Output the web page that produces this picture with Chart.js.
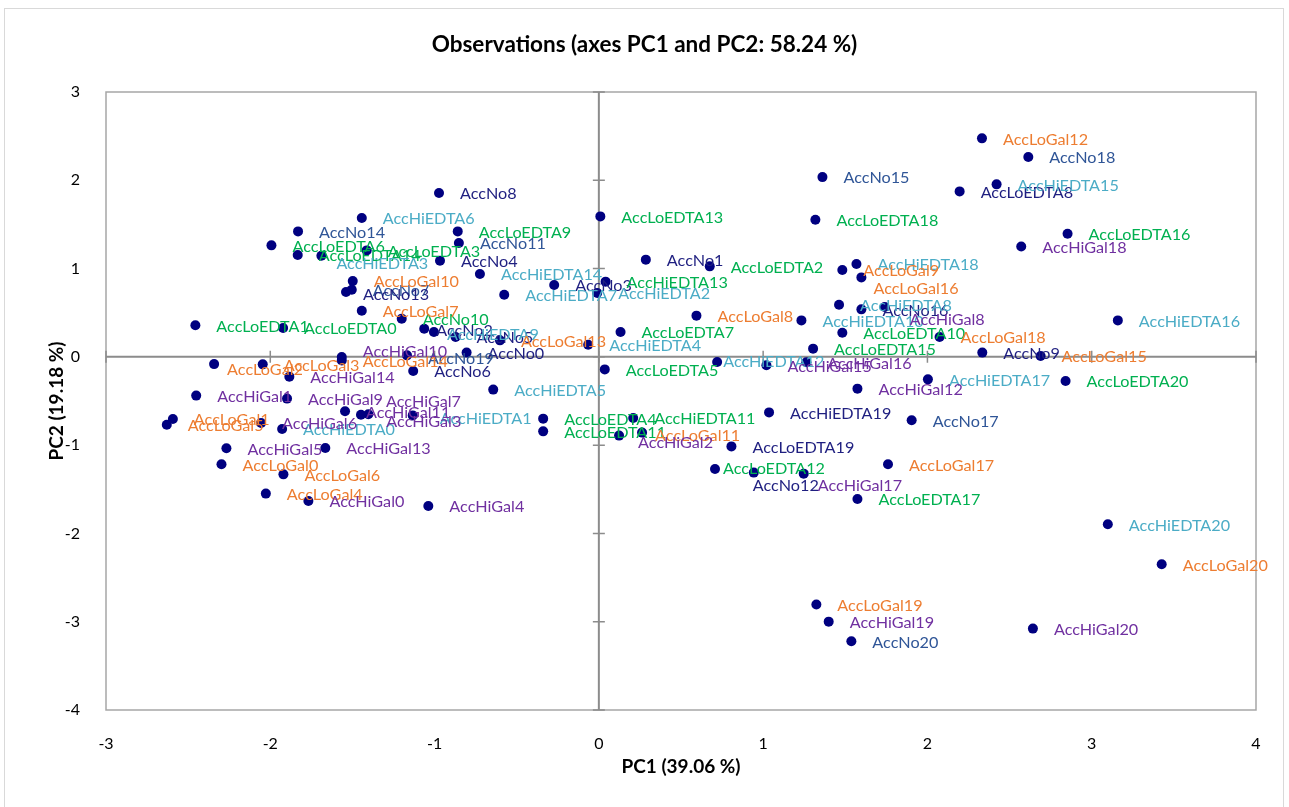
<!DOCTYPE html>
<html>
<head>
<meta charset="utf-8">
<title>Observations PC1/PC2</title>
<script src="https://cdn.jsdelivr.net/npm/chart.js@4.4.0/dist/chart.umd.min.js"></script>
<style>
  html, body { margin: 0; padding: 0; background: #fff; }
  #wrap { position: relative; width: 1289px; height: 807px; overflow: hidden; }
  #frame { position: absolute; left: 4px; top: 8px; width: 1280px; height: 810px; border: 1px solid #d9d9d9; box-sizing: border-box; }
  #obsChart { position: absolute; left: 0; top: 0; }
</style>
</head>
<body>
<div id="wrap">
  <div id="frame"></div>
  <canvas id="obsChart" width="1289" height="807"></canvas>
</div>
<script>
// Observation scores on the first two principal components
const groups = ['AccNo', 'AccLoEDTA', 'AccHiEDTA', 'AccLoGal', 'AccHiGal'];

const noPC1 = [-0.805, 0.286, -1.063, -0.272, -0.967, -0.872, -1.130, -1.504, -0.973, 2.334, -1.200, -0.852, 0.943, -1.539, -1.831, 1.361, 1.598, 1.904, 2.614, -1.168, 1.537];
const noPC2 = [0.048, 1.101, 0.319, 0.813, 1.089, 0.224, -0.161, 0.761, 1.855, 0.048, 0.433, 1.289, -1.311, 0.734, 1.421, 2.036, 0.538, -0.719, 2.263, 0.017, -3.222];

const loEdtaPC1 = [-1.922, -2.456, 0.675, -1.413, -0.339, 0.036, -1.993, 0.132, 2.196, -0.859, 1.482, -0.339, 0.707, 0.009, -1.833, 1.304, 2.853, 1.574, 1.318, 0.807, 2.841];
const loEdtaPC2 = [0.326, 0.357, 1.025, 1.206, -0.700, -0.142, 1.263, 0.281, 1.874, 1.421, 0.274, -0.844, -1.271, 1.591, 1.153, 0.093, 1.395, -1.610, 1.554, -1.014, -0.274];

const hiEdtaPC1 = [-1.928, -1.133, -0.010, -1.689, -0.065, -0.643, -1.443, -0.576, 1.462, -1.004, 1.233, 0.209, 0.720, 0.041, -0.724, 2.421, 3.159, 2.003, 1.568, 1.036, 3.098];
const hiEdtaPC2 = [-0.818, -0.663, 0.723, 1.146, 0.138, -0.371, 1.572, 0.704, 0.591, 0.281, 0.413, -0.693, -0.059, 0.852, 0.938, 1.954, 0.413, -0.255, 1.051, -0.629, -1.897];

const loGalPC1 = [-2.297, -2.593, -2.342, -2.046, -2.027, -2.630, -1.920, -1.443, 0.594, 1.482, -1.498, 0.263, 2.332, -0.602, -1.565, 2.689, 1.598, 1.760, 2.074, 1.324, 3.426];
const loGalPC2 = [-1.217, -0.704, -0.082, -0.085, -1.549, -0.768, -1.331, 0.523, 0.467, 0.983, 0.858, -0.858, 2.475, 0.187, -0.040, 0.009, 0.900, -1.217, 0.224, -2.806, -2.350];

const hiGalPC1 = [-1.768, -2.451, 0.123, -1.403, -1.038, -2.267, -2.056, -1.448, 1.740, -1.898, -1.565, -1.545, 1.574, -1.665, -1.884, 1.020, 1.263, 1.247, 2.571, 1.399, 2.642];
const hiGalPC2 = [-1.633, -0.439, -0.892, -0.651, -1.690, -1.036, -0.750, -0.655, 0.564, -0.473, -0.003, -0.617, -0.360, -1.033, -0.224, -0.096, -0.062, -1.323, 1.251, -2.999, -3.078];

const xTicks = [-3, -2, -1, 0, 1, 2, 3, 4];
const yTicks = [-4, -3, -2, -1, 0, 1, 2, 3];

const seriesPC1 = [noPC1, loEdtaPC1, hiEdtaPC1, loGalPC1, hiGalPC1];
const seriesPC2 = [noPC2, loEdtaPC2, hiEdtaPC2, loGalPC2, hiGalPC2];

// label colours
const groupColors = ['#2f5597', '#00b050', '#4bacc6', '#ed7d31', '#7030a0'];
const NAVY = '#1f1f80';
const colorOverride = {
    AccNo0: NAVY, AccNo1: NAVY, AccNo2: NAVY, AccNo3: NAVY, AccNo4: NAVY, AccNo5: NAVY,
    AccNo6: NAVY, AccNo8: NAVY, AccNo9: NAVY, AccNo12: NAVY, AccNo13: NAVY, AccNo16: NAVY,
    AccNo10: '#00b050',
    AccLoEDTA8: NAVY, AccLoEDTA19: NAVY, AccHiEDTA19: NAVY,
    AccHiEDTA11: '#00b050', AccHiEDTA13: '#00b050'
};

// label placement: default is to the right of the point, some are shifted to avoid overlap
const LABEL_DX = 21, LABEL_DY = 1;
const labelShift = {
    AccNo2: [12, 2], AccNo12: [-1, 13], AccNo13: [17, 3], AccNo19: [21, 3],
    AccLoEDTA12: [8, 0],
    AccHiEDTA1: [27, 3], AccHiEDTA3: [15, 8], AccHiEDTA9: [13, 3], AccHiEDTA12: [6, 0],
    AccLoGal2: [13, 6], AccLoGal11: [13, 3], AccLoGal16: [12, 11],
    AccHiGal2: [19, 7], AccHiGal3: [18, 7], AccHiGal7: [25, -13], AccHiGal8: [25, 13],
    AccHiGal10: [21, -5], AccHiGal17: [14, 12]
};

const FONT = 'Lato, "Liberation Sans", sans-serif';

const datasets = groups.map((g, gi) => ({
    label: g,
    data: seriesPC1[gi].map((v, i) => ({ x: v, y: seriesPC2[gi][i] })),
    pointRadius: 5,
    pointHoverRadius: 5,
    pointBackgroundColor: '#000080',
    pointBorderWidth: 0,
    showLine: false
}));

const axesPlugin = {
    id: 'pcaAxes',
    beforeDatasetsDraw(chart) {
        const { ctx, chartArea: a, scales: { x, y } } = chart;
        ctx.save();
        ctx.strokeStyle = '#a6a6a6';
        ctx.lineWidth = 1.5;
        ctx.strokeRect(a.left, a.top, a.right - a.left, a.bottom - a.top);

        const x0 = x.getPixelForValue(0);
        const y0 = y.getPixelForValue(0);
        ctx.strokeStyle = '#8c8c8c';
        ctx.lineWidth = 2;
        ctx.beginPath();
        ctx.moveTo(a.left, y0); ctx.lineTo(a.right, y0);
        ctx.moveTo(x0, a.top); ctx.lineTo(x0, a.bottom);
        ctx.stroke();

        // cross ticks on the zero axes
        ctx.lineWidth = 1.5;
        ctx.beginPath();
        xTicks.forEach(v => {
            const px = x.getPixelForValue(v);
            ctx.moveTo(px, y0 - 6); ctx.lineTo(px, y0 + 6);
        });
        yTicks.forEach(v => {
            const py = y.getPixelForValue(v);
            ctx.moveTo(x0 - 6, py); ctx.lineTo(x0 + 6, py);
        });
        ctx.stroke();
        ctx.restore();
    },
    afterDatasetsDraw(chart) {
        const { ctx } = chart;
        ctx.save();
        ctx.font = '16.2px ' + FONT;
        ctx.textAlign = 'left';
        ctx.textBaseline = 'middle';
        chart.data.datasets.forEach((ds, gi) => {
            const meta = chart.getDatasetMeta(gi);
            meta.data.forEach((pt, i) => {
                const name = groups[gi] + i;
                const [dx, dy] = labelShift[name] || [LABEL_DX, LABEL_DY];
                ctx.fillStyle = colorOverride[name] || groupColors[gi];
                ctx.fillText(name, pt.x + dx, pt.y + dy);
            });
        });
        ctx.restore();
    },
    afterDraw(chart) {
        const { ctx, chartArea: a } = chart;
        ctx.save();
        ctx.fillStyle = '#000';
        ctx.textAlign = 'center';
        ctx.textBaseline = 'middle';
        ctx.font = 'bold 22.5px ' + FONT;
        ctx.fillText('Observations (axes PC1 and PC2: 58.24 %)', chart.width / 2, 45);
        ctx.font = 'bold 19px ' + FONT;
        ctx.fillText('PC1 (39.06 %)', (a.left + a.right) / 2, 767);
        ctx.translate(57, (a.top + a.bottom) / 2);
        ctx.rotate(-Math.PI / 2);
        ctx.fillText('PC2 (19.18 %)', 0, 0);
        ctx.restore();
    }
};

const tickFont = { family: FONT, size: 16 };

new Chart(document.getElementById('obsChart').getContext('2d'), {
    type: 'scatter',
    data: { datasets },
    options: {
        responsive: false,
        animation: false,
        layout: { padding: { top: 92, right: 33, left: 0, bottom: 0 } },
        plugins: {
            legend: { display: false },
            tooltip: { enabled: false }
        },
        scales: {
            x: {
                type: 'linear',
                min: -3,
                max: 4,
                ticks: { stepSize: 1, padding: 16, color: '#000', font: tickFont, maxRotation: 0 },
                grid: { display: false },
                border: { display: false },
                afterFit(scale) { scale.height = 97; }
            },
            y: {
                type: 'linear',
                min: -4,
                max: 3,
                ticks: { stepSize: 1, padding: 18, color: '#000', font: tickFont },
                grid: { display: false },
                border: { display: false },
                afterFit(scale) { scale.width = 106; }
            }
        }
    },
    plugins: [axesPlugin]
});
</script>
</body>
</html>
